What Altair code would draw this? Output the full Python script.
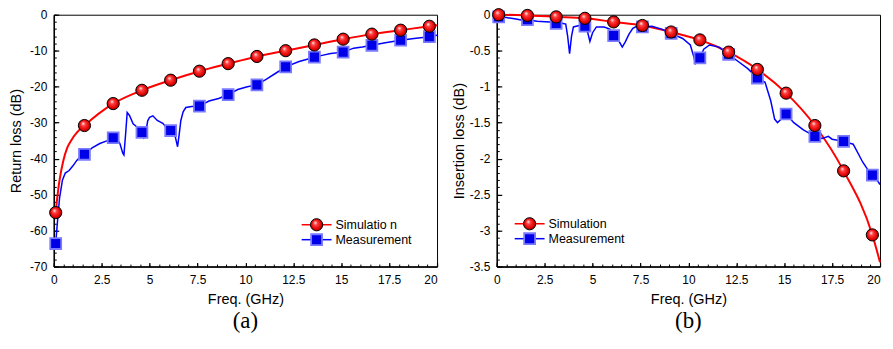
import altair as alt
import pandas as pd

# ---------------- data ----------------
freq_mk = [0.1, 1.6, 3.1, 4.6, 6.1, 7.6, 9.1, 10.6, 12.1, 13.6, 15.1, 16.6, 18.1, 19.6]

rl_sim_mk = [-55, -30.8, -24.7, -21, -18.2, -15.7, -13.6, -11.6, -10, -8.4, -6.8, -5.4, -4.3, -3.2]
rl_meas_mk = [-63.6, -38.8, -34.2, -32.7, -32.2, -25.4, -22.2, -19.5, -14.5, -11.8, -10.4, -8.5, -7.1, -6.1]
il_sim_mk = [0.0, -0.01, -0.03, -0.05, -0.1, -0.15, -0.24, -0.35, -0.52, -0.76, -1.09, -1.54, -2.17, -3.06]
il_meas_mk = [-0.03, -0.07, -0.12, -0.16, -0.29, -0.17, -0.26, -0.6, -0.55, -0.88, -1.38, -1.69, -1.76, -2.23]

rl_sim_f = [0.1, 0.2, 0.3, 0.5, 0.7, 0.9, 1.2, 1.6, 3.1, 4.6, 6.1, 7.6, 9.1, 10.6, 12.1, 13.6, 15.1, 16.6, 18.1, 19.6, 20.0]
rl_sim = [-55, -50, -46, -40.5, -37, -35, -32.8, -30.8, -24.7, -21, -18.2, -15.7, -13.6, -11.6, -10, -8.4, -6.8, -5.4, -4.3, -3.2, -2.9]

rl_meas_f = [0.1, 0.2, 0.3, 0.45, 0.6, 0.8, 1.0, 1.2, 1.4, 1.6, 2.0, 2.4, 2.8, 3.1, 3.3, 3.45, 3.6, 3.66,
             3.75, 3.83, 3.95, 4.14, 4.4, 4.6, 4.7, 4.78, 4.9, 5.0, 5.17, 5.4, 5.69, 5.9, 6.1, 6.3,
             6.46, 6.55, 6.63, 6.75, 6.89, 7.2, 7.6, 8.1, 8.6, 9.1, 9.6, 10.1, 10.6, 11.1, 11.6, 12.1,
             12.8, 13.6, 14.0, 14.45, 15.1, 15.65, 16.1, 16.6, 17.3, 18.1, 18.8, 19.6, 20.0]
rl_meas = [-63.6, -57, -51, -46, -44, -43.3, -42, -40.5, -39.4, -38.8, -37, -35.8, -35, -34.2, -34.6, -35.8, -38.5, -39,
           -33, -27.2, -28, -30.3, -31.5, -32.6, -34.2, -33.5, -29.5, -28.5, -28.1, -29.4, -30.2, -31.5, -32.2, -33,
           -36.7, -33, -29.4, -27, -25.8, -25.5, -25.4, -24, -23.3, -22.2, -20.8, -20, -19.5, -17.9, -16.2, -14.5,
           -13, -11.8, -11.3, -10.8, -10.4, -9.3, -9, -8.5, -7.8, -7.1, -6.6, -6.1, -5.7]

il_sim_f = [0.0, 0.1, 1.6, 3.1, 4.6, 6.1, 7.6, 9.1, 10.6, 12.1, 13.6, 15.1, 16.6, 18.1, 19.6, 20.0]
il_sim = [0.0, 0.0, -0.01, -0.03, -0.05, -0.1, -0.15, -0.24, -0.35, -0.52, -0.76, -1.09, -1.54, -2.17, -3.06, -3.44]

il_meas_f = [0.1, 0.5, 1.0, 1.4, 1.6, 2.1, 2.75, 3.1, 3.4, 3.6, 3.7, 3.8, 3.9, 4.0, 4.3, 4.6, 4.75, 4.86,
             5.0, 5.2, 5.6, 5.9, 6.1, 6.4, 6.55, 6.7, 6.9, 7.1, 7.3, 7.6, 8.1, 8.6, 9.1, 9.7, 10.1, 10.3,
             10.36, 10.6, 10.8, 11.1, 11.6, 12.1, 12.6, 13.1, 13.6, 14.0, 14.3, 14.5, 14.65, 14.85, 15.1,
             15.5, 16.0, 16.6, 17.0, 17.3, 17.5, 18.1, 18.6, 19.1, 19.35, 19.6, 19.8, 20.0]
il_meas = [-0.03, -0.04, -0.06, -0.08, -0.07, -0.09, -0.1, -0.12, -0.12, -0.13, -0.3, -0.54, -0.3, -0.17, -0.15, -0.16, -0.25, -0.37,
           -0.25, -0.17, -0.17, -0.2, -0.29, -0.38, -0.45, -0.38, -0.27, -0.19, -0.16, -0.17, -0.16, -0.2, -0.26, -0.33, -0.42, -0.6,
           -0.68, -0.6, -0.48, -0.42, -0.45, -0.55, -0.65, -0.75, -0.88, -0.94, -1.2, -1.45, -1.5, -1.45, -1.38,
           -1.5, -1.6, -1.69, -1.72, -1.69, -1.73, -1.76, -1.8, -2.05, -2.15, -2.23, -2.28, -2.36]

x_major = [0, 2.5, 5, 7.5, 10, 12.5, 15, 17.5, 20]
x_minor = [i * 0.5 for i in range(41)]
rl_major = [-70, -60, -50, -40, -30, -20, -10, 0]
rl_minor = [-70 + 2 * i for i in range(36)]
il_major = [-3.5, -3, -2.5, -2, -1.5, -1, -0.5, 0]
il_minor = [round(-3.5 + 0.1 * i, 2) for i in range(36)]

# ---------------- style ----------------
FONT = "Liberation Sans"
SERIF = "Liberation Serif"
RED = "#ff0000"
BLUE = "#0000ff"
W, H = 385, 253

circle_fill = {
    "gradient": "radial", "x1": 0.38, "y1": 0.32, "r1": 0.0,
    "x2": 0.5, "y2": 0.5, "r2": 0.55,
    "stops": [
        {"offset": 0.0, "color": "#ffffff"},
        {"offset": 0.3, "color": "#ff4040"},
        {"offset": 0.75, "color": "#e00000"},
        {"offset": 1.0, "color": "#900000"},
    ],
}

CIRCLE = dict(shape="circle", filled=True, size=150, fill=circle_fill,
              stroke="black", strokeWidth=1, opacity=1)
SQUARE = dict(shape="square", filled=True, size=120, fill="#0000e8",
              stroke="#7a7aff", strokeWidth=1.8, opacity=1)


def panel(sim_f, sim_v, meas_f, meas_v, mk_sim, mk_meas, ydom, ymaj, ymin,
          ytitle, ytpad, sim_label, meas_label, lx, ly, letter):
    xs = alt.Scale(domain=[0, 20], nice=False, zero=False)
    ys = alt.Scale(domain=ydom, nice=False, zero=False)

    xalign = alt.condition("datum.value == 20", alt.value("right"), alt.value("center"))

    ax_x = alt.Axis(orient="bottom", values=x_major, title="Freq. (GHz)", ticks=False, tickSize=0,
                    labelPadding=8, labelFlush=False, domainColor="black", domainWidth=1.5, grid=False,
                    labelAlign=xalign,
                    labelFont=FONT, labelFontSize=12, labelColor="black", labelExpr="'' + datum.value",
                    titleFont=FONT, titleFontSize=14.5, titleFontWeight="normal", titleColor="black",
                    titlePadding=7)
    ax_y = alt.Axis(orient="left", values=ymaj, title=ytitle, ticks=False, tickSize=0,
                    labelPadding=7, labelFlush=False, domainColor="black", domainWidth=1.5, grid=False,
                    labelFont=FONT, labelFontSize=12, labelColor="black", labelExpr="'' + datum.value",
                    titleFont=FONT, titleFontSize=14.5, titleFontWeight="normal", titleColor="black",
                    titlePadding=ytpad)
    ax_x_maj = alt.Axis(orient="bottom", values=x_major, labels=False, domain=False, title=None,
                        tickSize=4, offset=-4, tickColor="black", tickWidth=1.2, grid=False)
    ax_y_maj = alt.Axis(orient="left", values=ymaj, labels=False, domain=False, title=None,
                        tickSize=5, offset=-5, tickColor="black", tickWidth=1.2, grid=False)
    ax_x_min = alt.Axis(orient="bottom", values=x_minor, labels=False, domain=False, title=None,
                        tickSize=2.5, offset=-2.5, tickColor="black", tickWidth=1, grid=False)
    ax_y_min = alt.Axis(orient="left", values=ymin, labels=False, domain=False, title=None,
                        tickSize=2.5, offset=-2.5, tickColor="black", tickWidth=1, grid=False)

    df_sim = pd.DataFrame({"f": sim_f, "v": sim_v})
    df_meas = pd.DataFrame({"f": meas_f, "v": meas_v})
    df_mk_sim = pd.DataFrame({"f": freq_mk, "v": mk_sim})
    df_mk_meas = pd.DataFrame({"f": freq_mk, "v": mk_meas})

    sim_line = alt.Chart(df_sim).mark_line(color=RED, strokeWidth=2, interpolate="monotone").encode(
        x=alt.X("f:Q", scale=xs, axis=ax_x), y=alt.Y("v:Q", scale=ys, axis=ax_y))
    meas_line = alt.Chart(df_meas).mark_line(color=BLUE, strokeWidth=1.5).encode(
        x=alt.X("f:Q", scale=xs, axis=ax_x_maj), y=alt.Y("v:Q", scale=ys, axis=ax_y_maj))
    meas_pts = alt.Chart(df_mk_meas).mark_point(**SQUARE).encode(
        x=alt.X("f:Q", scale=xs, axis=ax_x_min), y=alt.Y("v:Q", scale=ys, axis=ax_y_min))
    sim_pts = alt.Chart(df_mk_sim).mark_point(**CIRCLE).encode(
        x=alt.X("f:Q", scale=xs, axis=None), y=alt.Y("v:Q", scale=ys, axis=None))

    one = pd.DataFrame({"t": [sim_label]})
    two = pd.DataFrame({"t": [meas_label]})
    dy = 15
    leg = [
        alt.Chart(one).mark_rule(color=RED, strokeWidth=1.5).encode(
            x=alt.value(lx), x2=alt.value(lx + 30), y=alt.value(ly)),
        alt.Chart(one).mark_point(**CIRCLE).encode(
            x=alt.value(lx + 15), y=alt.value(ly)),
        alt.Chart(one).mark_text(align="left", baseline="middle", font=FONT, fontSize=12.5,
                                 color="black").encode(
            x=alt.value(lx + 34), y=alt.value(ly), text="t:N"),
        alt.Chart(two).mark_rule(color=BLUE, strokeWidth=1.5).encode(
            x=alt.value(lx), x2=alt.value(lx + 30), y=alt.value(ly + dy)),
        alt.Chart(two).mark_point(**SQUARE).encode(
            x=alt.value(lx + 15), y=alt.value(ly + dy)),
        alt.Chart(two).mark_text(align="left", baseline="middle", font=FONT, fontSize=12.5,
                                 color="black").encode(
            x=alt.value(lx + 34), y=alt.value(ly + dy), text="t:N"),
    ]

    return alt.layer(sim_line, meas_line, meas_pts, sim_pts, *leg).resolve_axis(
        x="independent", y="independent"
    ).properties(
        width=W, height=H,
        title=alt.TitleParams(letter, orient="bottom", font=SERIF, fontSize=23, fontWeight="normal",
                              color="black", anchor="middle", offset=4),
    )


left = panel(rl_sim_f, rl_sim, rl_meas_f, rl_meas, rl_sim_mk, rl_meas_mk, [-70, 0],
             rl_major, rl_minor, "Return loss (dB)", 6, "Simulatio n", "Measurement", 249, 211, "(a)")
right = panel(il_sim_f, il_sim, il_meas_f, il_meas, il_sim_mk, il_meas_mk, [-3.5, 0],
              il_major, il_minor, "Insertion loss (dB)", 3, "Simulation", "Measurement", 18, 210, "(b)")

chart = alt.hconcat(left, right, spacing=8).properties(
    padding={"left": 0, "top": -3, "right": 0, "bottom": 0}
).configure_view(stroke="black", strokeWidth=1)

chart.save("out.html", embed_options={"renderer": "svg", "actions": False})
